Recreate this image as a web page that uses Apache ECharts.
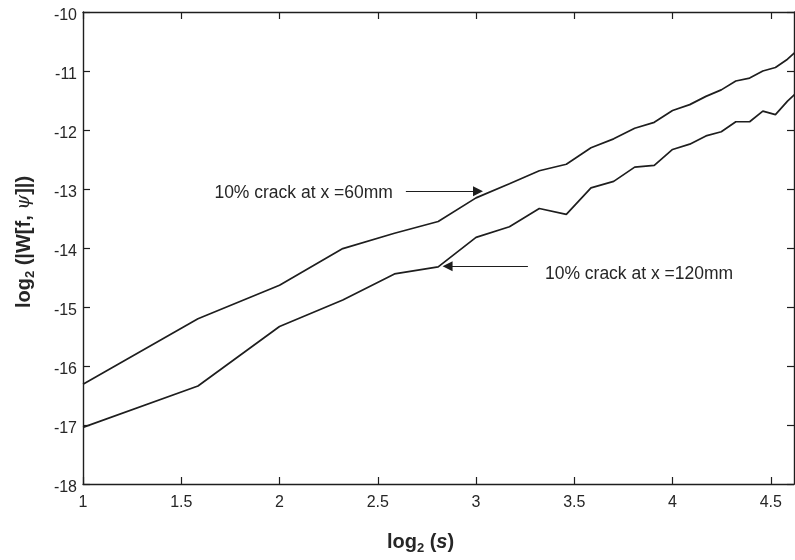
<!DOCTYPE html>
<html>
<head>
<meta charset="utf-8">
<script src="https://cdn.jsdelivr.net/npm/echarts@6/dist/echarts.min.js"></script>
<style>
  html, body { margin: 0; padding: 0; background: #fff; }
  #chart { width: 795px; height: 560px; }
</style>
</head>
<body>
<div id="chart"></div>
<script>
// Wavelet scale s = 2 … 25, plotted as log2(s)
const scales = [2, 3, 4, 5, 6, 7, 8, 9, 10, 11, 12, 13, 14, 15, 16, 17, 18, 19, 20, 21, 22, 23, 24, 25];

// log2 of the wavelet coefficient magnitude for each crack position
const crack60mm = [-16.31, -15.20, -14.63, -14.01, -13.75, -13.55, -13.15, -12.91, -12.69, -12.58,
                   -12.30, -12.15, -11.97, -11.87, -11.67, -11.57, -11.43, -11.32, -11.17, -11.12,
                   -11.00, -10.94, -10.80, -10.62];
const crack120mm = [-17.04, -16.34, -15.33, -14.88, -14.44, -14.32, -13.82, -13.64, -13.33, -13.43,
                    -12.98, -12.87, -12.63, -12.60, -12.33, -12.24, -12.10, -12.03, -11.86, -11.86,
                    -11.68, -11.74, -11.51, -11.33];

const xTicks = [1, 1.5, 2, 2.5, 3, 3.5, 4, 4.5];
const yTicks = [-18, -17, -16, -15, -14, -13, -12, -11, -10];

// Annotation text and the arrow that points at each curve (data coordinates)
const label60 = '10% crack at x =60mm';
const label120 = '10% crack at x =120mm';
const arrow60 = { from: [2.643, -13.04], to: [3.01, -13.04] };
const arrow120 = { from: [3.264, -14.31], to: [2.855, -14.31] };

const toPairs = ys => scales.map((s, i) => [Math.log2(s), ys[i]]);

const INK = '#1e1e1e';
const TEXT = '#262626';
const FONT = '"Liberation Sans", Arial, sans-serif';

const nameRich = {
  b: { fontFamily: FONT, fontWeight: 'bold', fontSize: 20, color: TEXT, lineHeight: 25 },
  s: { fontFamily: FONT, fontWeight: 'bold', fontSize: 13, color: TEXT, verticalAlign: 'bottom', lineHeight: 15 },
  i: { fontFamily: FONT, fontWeight: 'bold', fontStyle: 'italic', fontSize: 20, color: TEXT, lineHeight: 25 },
  g: { fontFamily: 'DejaVu Serif, serif', fontStyle: 'italic', fontSize: 19, color: TEXT, lineHeight: 25 }
};

const XMIN = 1, XMAX = 4.618;
const YMIN = -18, YMAX = -10;

const axisLine = { show: true, onZero: false, lineStyle: { color: INK, width: 1.4 } };
const tickStyle = { color: INK, width: 1.2 };

const arrowLine = a => ({
  silent: true,
  symbol: ['none', 'triangle'],
  symbolSize: 10,
  lineStyle: { color: INK, width: 1.1, type: 'solid' },
  itemStyle: { color: INK },
  label: { show: false },
  emphasis: { disabled: true },
  data: [[{ coord: a.from }, { coord: a.to }]]
});

const textPoint = (coord, txt, pos, dist, dy) => ({
  coord: coord,
  symbolSize: 0,
  label: {
    show: true,
    formatter: txt,
    position: pos,
    distance: dist,
    offset: [0, dy],
    fontFamily: FONT,
    fontSize: 17.5,
    color: TEXT
  }
});

const chart = echarts.init(document.getElementById('chart'), null, { renderer: 'canvas' });

chart.setOption({
  animation: false,
  backgroundColor: '#fff',
  grid: { left: 83, top: 12, right: 1, bottom: 74, containLabel: false },
  xAxis: [
    {
      type: 'value', min: XMIN, max: XMAX, interval: 0.5, position: 'bottom',
      axisLine: axisLine,
      splitLine: { show: false },
      axisLabel: {
        fontFamily: FONT, fontSize: 16, color: TEXT, margin: 11,
        customValues: xTicks, formatter: v => String(v)
      },
      axisTick: { show: true, inside: true, length: 7, customValues: xTicks, lineStyle: tickStyle },
      name: '{b|log}{s|2}{b| (}{i|s}{b|)}',
      nameLocation: 'middle', nameGap: 46,
      nameTextStyle: { rich: nameRich, padding: [0, 36, 0, 0] }
    },
    {
      type: 'value', min: XMIN, max: XMAX, interval: 0.5, position: 'top',
      axisLine: axisLine,
      splitLine: { show: false },
      axisLabel: { show: false },
      axisTick: { show: true, inside: true, length: 7, customValues: xTicks, lineStyle: tickStyle }
    }
  ],
  yAxis: [
    {
      type: 'value', min: YMIN, max: YMAX, interval: 1, position: 'left',
      axisLine: axisLine,
      splitLine: { show: false },
      axisTick: { show: true, inside: true, length: 7, lineStyle: tickStyle },
      axisLabel: {
        margin: 6,
        formatter: v => '{t|' + v + '}',
        rich: { t: { fontFamily: FONT, fontSize: 16, color: TEXT, padding: [8, 0, 0, 0] } }
      },
      name: '{b|log}{s|2}{b| (|W[f, }{g|ψ}{b|]|)}',
      nameLocation: 'middle', nameGap: 46,
      nameTextStyle: { rich: nameRich, padding: [0, 0, 0, 12] }
    },
    {
      type: 'value', min: YMIN, max: YMAX, interval: 1, position: 'right',
      axisLine: axisLine,
      splitLine: { show: false },
      axisTick: { show: true, inside: true, length: 7, lineStyle: tickStyle },
      axisLabel: { show: false }
    }
  ],
  series: [
    {
      name: 'x = 60mm',
      type: 'line',
      data: toPairs(crack60mm),
      showSymbol: false,
      clip: true,
      lineStyle: { color: INK, width: 1.7 },
      markLine: arrowLine(arrow60),
      markPoint: { silent: true, data: [textPoint(arrow60.from, label60, 'left', 13, 2)] }
    },
    {
      name: 'x = 120mm',
      type: 'line',
      data: toPairs(crack120mm),
      showSymbol: false,
      clip: true,
      lineStyle: { color: INK, width: 1.7 },
      markLine: arrowLine(arrow120),
      markPoint: { silent: true, data: [textPoint(arrow120.from, label120, 'right', 17, 8)] }
    }
  ]
});
</script>
</body>
</html>
